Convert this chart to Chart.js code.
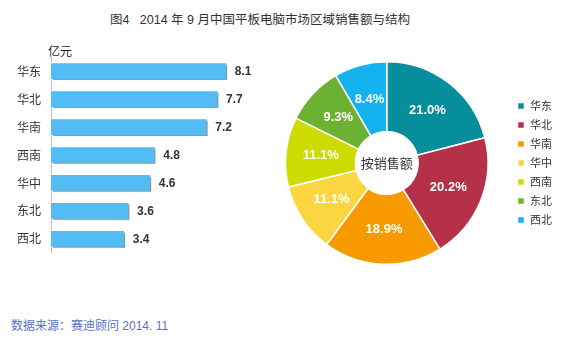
<!DOCTYPE html>
<html>
<head>
<meta charset="utf-8">
<script src="https://cdn.jsdelivr.net/npm/chart.js@4.4.1/dist/chart.umd.min.js"></script>
<style>
  body { margin: 0; background: #fff; width: 576px; height: 338px; position: relative; overflow: hidden;
         font-family: "Liberation Sans", "Noto Sans CJK SC", sans-serif; }
  #title { position: absolute; left: 0; width: 520px; top: 9px; text-align: center; font-size: 12.5px; color: #333; }
  #unit { position: absolute; left: 48px; top: 42px; font-size: 12px; color: #222; }
  #source { position: absolute; left: 11px; top: 316px; font-size: 12px; color: #5b6fc6; }
  #barBox { position: absolute; left: 0; top: 40px; width: 280px; height: 230px; }
  #pieBox { position: absolute; left: 264px; top: 61px; width: 306px; height: 204px; }
</style>
</head>
<body>
<div id="title">图4&nbsp;&nbsp;&nbsp;2014 年 9 月中国平板电脑市场区域销售额与结构</div>
<div id="unit">亿元</div>
<div id="barBox"><canvas id="bar"></canvas></div>
<div id="pieBox"><canvas id="pie"></canvas></div>
<div id="source">数据来源：赛迪顾问 2014. 11</div>
<script>
// sales by region (亿元)
const regions = ['华东', '华北', '华南', '西南', '华中', '东北', '西北'];
const sales = [8.1, 7.7, 7.2, 4.8, 4.6, 3.6, 3.4];

// share structure (%)
const shareLabels = ['华东', '华北', '华南', '华中', '西南', '东北', '西北'];
const shares = [21.0, 20.2, 18.9, 11.1, 11.1, 9.3, 8.4];
const shareColors = ['#078e9c', '#b5314a', '#f79a00', '#fbd640', '#cddb00', '#6cb131', '#14b2ee'];

const cjk = '"Noto Sans CJK SC", sans-serif';
const latin = '"Liberation Sans", "Noto Sans CJK SC", sans-serif';

// shadow under the bars
const barShadow = {
    id: 'barShadow',
    beforeDatasetsDraw(chart) {
        const ctx = chart.ctx;
        ctx.save();
        ctx.shadowColor = 'rgba(0,0,0,0.45)';
        ctx.shadowOffsetX = 2;
        ctx.shadowOffsetY = 2;
        ctx.shadowBlur = 2;
    },
    afterDatasetsDraw(chart) {
        chart.ctx.restore();
    }
};

// value after each bar
const barValues = {
    id: 'barValues',
    afterDraw(chart) {
        const ctx = chart.ctx;
        const meta = chart.getDatasetMeta(0);
        ctx.save();
        ctx.font = 'bold 12px ' + latin;
        ctx.fillStyle = '#333';
        ctx.textBaseline = 'middle';
        meta.data.forEach((bar, i) => {
            ctx.fillText(sales[i].toFixed(1), bar.x + 8, bar.y + 1);
        });
        ctx.restore();
    }
};

new Chart(document.getElementById('bar'), {
    type: 'bar',
    data: {
        labels: regions,
        datasets: [{
            data: sales,
            backgroundColor: '#52bdf4',
            borderColor: '#ffffff',
            borderWidth: 1,
            barThickness: 17
        }]
    },
    options: {
        indexAxis: 'y',
        responsive: true,
        maintainAspectRatio: false,
        animation: false,
        layout: { padding: { top: 14, bottom: 9, right: 12 } },
        plugins: { legend: { display: false }, tooltip: { enabled: false } },
        scales: {
            x: { display: false, min: 0, max: 10 },
            y: {
                grid: { display: false, drawTicks: false },
                border: { display: true, color: '#bdbdbd' },
                ticks: { color: '#333', padding: 10, font: { size: 12, family: cjk } },
                afterFit(scale) { scale.width = 51; }
            }
        }
    },
    plugins: [barShadow, barValues]
});

// percentages on the ring and text in the middle
const ringLabels = {
    id: 'ringLabels',
    afterDraw(chart) {
        const ctx = chart.ctx;
        const meta = chart.getDatasetMeta(0);
        ctx.save();
        ctx.textAlign = 'center';
        ctx.textBaseline = 'middle';
        ctx.font = 'bold 13px ' + latin;
        ctx.fillStyle = '#ffffff';
        meta.data.forEach((arc, i) => {
            const p = arc.tooltipPosition();
            ctx.fillText(shares[i].toFixed(1) + '%', p.x, p.y);
        });
        const a = meta.data[0];
        ctx.font = '13px ' + cjk;
        ctx.fillStyle = '#333';
        ctx.fillText('按销售额', a.x, a.y);
        ctx.restore();
    }
};

new Chart(document.getElementById('pie'), {
    type: 'doughnut',
    data: {
        labels: shareLabels,
        datasets: [{
            data: shares,
            backgroundColor: shareColors,
            borderColor: '#ffffff',
            borderWidth: 1.5
        }]
    },
    options: {
        responsive: true,
        maintainAspectRatio: false,
        animation: false,
        cutout: '31%',
        layout: { padding: { right: 8 } },
        plugins: {
            tooltip: { enabled: false },
            legend: {
                position: 'right',
                labels: {
                    boxWidth: 7,
                    boxHeight: 7,
                    padding: 8,
                    color: '#333',
                    font: { size: 11, family: cjk }
                }
            }
        }
    },
    plugins: [ringLabels]
});
</script>
</body>
</html>
